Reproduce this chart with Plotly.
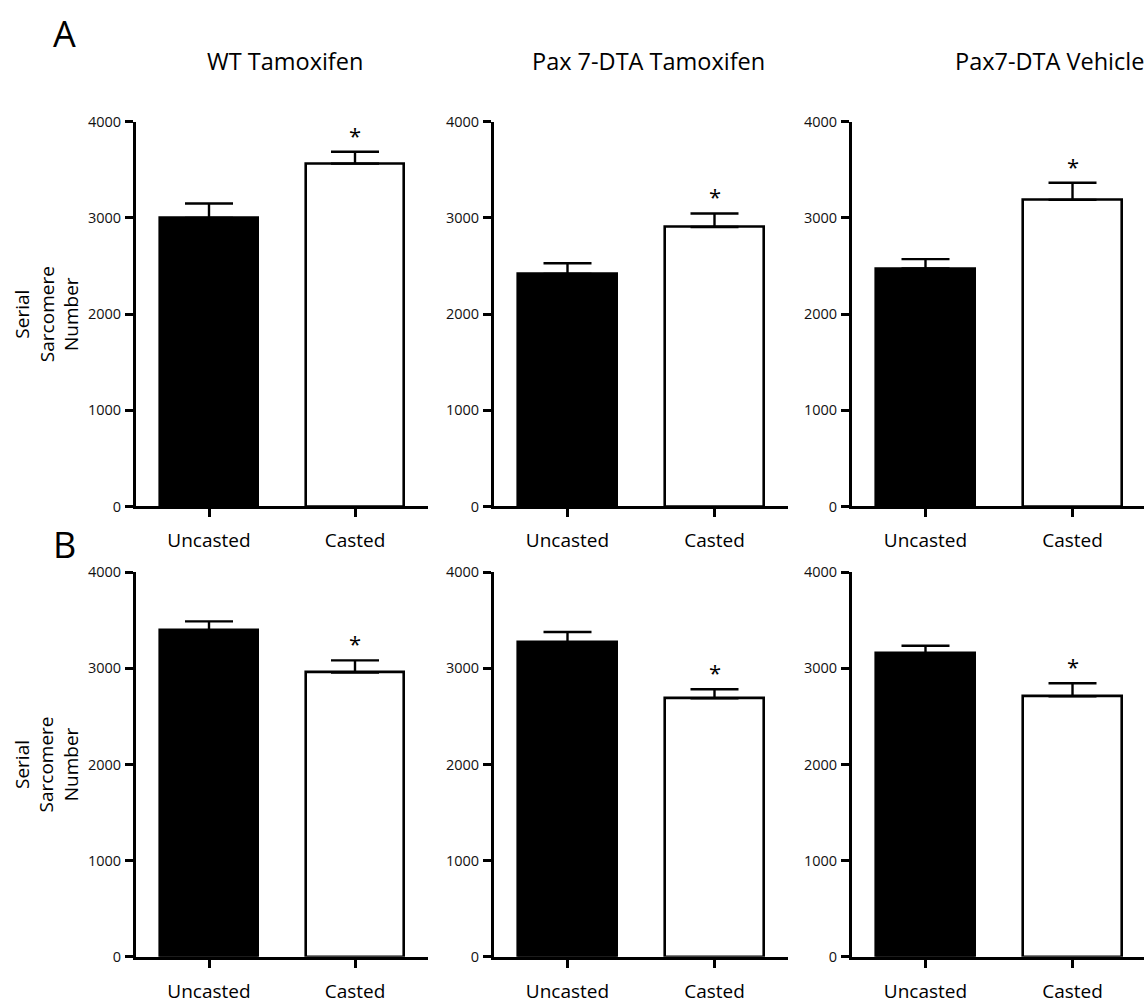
import plotly.graph_objects as go

W, H = 1144, 1005

categories = ["Uncasted", "Casted"]
group_titles = ["WT Tamoxifen", "Pax 7-DTA Tamoxifen", "Pax7-DTA Vehicle"]
row_labels = ["A", "B"]
y_ticks = [0, 1000, 2000, 3000, 4000]

# Row A
wt_tam_A = [3000, 3565]
wt_tam_A_err = [150, 124]
pax_tam_A = [2417, 2907]
pax_tam_A_err = [112, 140]
pax_veh_A = [2474, 3188]
pax_veh_A_err = [98, 179]

# Row B
wt_tam_B = [3396, 2957]
wt_tam_B_err = [92, 126]
pax_tam_B = [3269, 2688]
pax_tam_B_err = [109, 95]
pax_veh_B = [3157, 2709]
pax_veh_B_err = [78, 136]

# significance markers (index of bar with star)
star_idx = 1

rows = [
    [(wt_tam_A, wt_tam_A_err), (pax_tam_A, pax_tam_A_err), (pax_veh_A, pax_veh_A_err)],
    [(wt_tam_B, wt_tam_B_err), (pax_tam_B, pax_tam_B_err), (pax_veh_B, pax_veh_B_err)],
]

FONT = "Open Sans, Noto Sans, sans-serif"

# pixel layout
col_x = [(136, 428), (494, 788), (852, 1144)]
col_range = [[-0.5, 1.5], [-0.5, 1.5], [-0.5, 1.5 - (1146 - 1144) / 146.0]]
row_y = [(114, 506), (573, 965)]  # (top=4000, bottom=0)

fig = go.Figure()
annotations = []

k = 0
for r, row in enumerate(rows):
    for c, (vals, errs) in enumerate(row):
        k += 1
        xa = "x" if k == 1 else f"x{k}"
        ya = "y" if k == 1 else f"y{k}"
        fig.add_trace(go.Bar(
            x=[0, 1], y=vals,
            marker=dict(color=["black", "white"], line=dict(color="black", width=2.6)),
            width=0.667,
            error_y=dict(type="data", symmetric=False, array=errs, arrayminus=[0, 0],
                         color="black", thickness=2.4, width=24),
            xaxis=xa, yaxis=ya, showlegend=False, hoverinfo="y",
        ))
        x0, x1 = col_x[c]
        yt, yb = row_y[r]
        axis_common = dict(showgrid=False, zeroline=False, showline=True, linecolor="black",
                           linewidth=3, ticks="outside", tickcolor="black", ticklen=8, tickwidth=2.5)
        fig.layout[("xaxis" if k == 1 else f"xaxis{k}")] = dict(
            domain=[x0 / W, x1 / W], range=col_range[c], anchor=ya,
            tickmode="array", tickvals=[0, 1], ticktext=categories, ticklabelstandoff=7,
            tickfont=dict(family=FONT, size=19, color="black"), **axis_common)
        fig.layout[("yaxis" if k == 1 else f"yaxis{k}")] = dict(
            domain=[1 - yb / H, 1 - yt / H], range=[0, 4000], anchor=xa,
            tickmode="array", tickvals=y_ticks, ticktext=[str(t) for t in y_ticks],
            ticklabelstandoff=1,
            tickfont=dict(family=FONT, size=14.5, color="#111"), **axis_common)
        # star above the significant bar
        annotations.append(dict(
            x=star_idx, y=vals[star_idx] + errs[star_idx], xref=xa, yref=ya,
            text="*", showarrow=False, yanchor="bottom", yshift=0,
            font=dict(family=FONT, size=22, color="black")))

# column titles (row A only)
title_cx = [285, 648, 1049]
for t, cx in zip(group_titles, title_cx):
    annotations.append(dict(x=cx / W, y=1 - 52 / H, xref="paper", yref="paper",
                            text=t, showarrow=False, xanchor="center", yanchor="middle",
                            font=dict(family=FONT, size=23.5, color="black")))

# panel letters
for lab, (lx, ly) in zip(row_labels, [(64, 24), (64, 545)]):
    annotations.append(dict(x=lx / W, y=1 - ly / H, xref="paper", yref="paper",
                            text=lab, showarrow=False, xanchor="center", yanchor="middle",
                            font=dict(family=FONT, size=36, color="black")))

# y-axis titles
for (yt, yb) in row_y:
    annotations.append(dict(x=46 / W, y=1 - ((yt + yb) / 2) / H, xref="paper", yref="paper",
                            text="Serial<br>Sarcomere<br>Number", textangle=-90,
                            showarrow=False, xanchor="center", yanchor="middle",
                            font=dict(family=FONT, size=19, color="black")))

fig.update_layout(
    width=W, height=H, margin=dict(l=0, r=0, t=0, b=0),
    paper_bgcolor="white", plot_bgcolor="white",
    annotations=annotations, bargap=0,
)

fig.write_html("out.html", config={"displayModeBar": False},
               post_script="document.body.style.margin='0';document.body.style.overflow='hidden';")
